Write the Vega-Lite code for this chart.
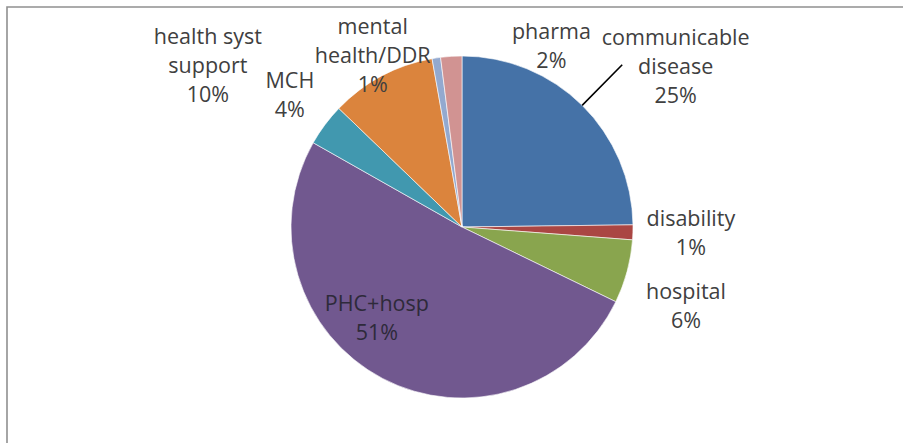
{
  "$schema": "https://vega.github.io/schema/vega-lite/v6.json",
  "autosize": {"type": "fit", "contains": "padding"},
  "width": 903,
  "height": 443,
  "padding": {"left": 7, "top": 7, "right": -14, "bottom": -4},
  "background": "white",
  "view": {"stroke": "#909090", "strokeWidth": 1.6},
  "config": {"view": {"stroke": "#909090", "strokeWidth": 1.6}, "text": {"font": "Open Sans"}},
  "data": {
    "values": [
      {"category": "communicable disease", "label": "communicable|disease", "pct": "25%", "share": 24.8, "order": 1},
      {"category": "disability", "label": "disability", "pct": "1%", "share": 1.4, "order": 2},
      {"category": "hospital", "label": "hospital", "pct": "6%", "share": 6.0, "order": 3},
      {"category": "PHC+hosp", "label": "PHC+hosp", "pct": "51%", "share": 51.0, "order": 4},
      {"category": "MCH", "label": "MCH", "pct": "4%", "share": 4.0, "order": 5},
      {"category": "health syst support", "label": "health syst|support", "pct": "10%", "share": 10.0, "order": 6},
      {"category": "mental health/DDR", "label": "mental|health/DDR", "pct": "1%", "share": 0.8, "order": 7},
      {"category": "pharma", "label": "pharma", "pct": "2%", "share": 2.0, "order": 8}
    ]
  },
  "transform": [
    {"window": [{"op": "sum", "field": "share", "as": "cum"}], "sort": [{"field": "order"}]},
    {"calculate": "datum.cum - datum.share", "as": "start"},
    {"calculate": "datum.cum - datum.share / 2", "as": "mid"},
    {"calculate": "datum.label + '|' + datum.pct", "as": "text"}
  ],
  "layer": [
    {
      "mark": {"type": "arc", "outerRadius": 171, "stroke": "#ffffff", "strokeWidth": 0.6},
      "encoding": {
        "theta": {"field": "start", "type": "quantitative", "scale": {"domain": [0, 100], "range": [0, 6.283185307]}},
        "theta2": {"field": "cum"},
        "color": {
          "field": "category", "type": "nominal", "legend": null,
          "scale": {
            "domain": ["communicable disease", "disability", "hospital", "PHC+hosp", "MCH", "health syst support", "mental health/DDR", "pharma"],
            "range": ["#4572A7", "#AA4643", "#89A54E", "#71588F", "#4198AF", "#DB843D", "#93A9CF", "#D19392"]
          }
        }
      }
    },
    {
      "transform": [{"filter": "datum.category == 'communicable disease'"}],
      "mark": {"type": "arc", "radius": 228, "radius2": 171, "fill": null, "stroke": "#000000", "strokeWidth": 1.6},
      "encoding": {"theta": {"field": "mid", "type": "quantitative"}, "theta2": {"field": "mid"}}
    },
    {
      "transform": [{"filter": "datum.category == 'communicable disease'"}],
      "mark": {"type": "text", "radius": 260, "dx": 31, "dy": -3, "fontSize": 21.5, "lineBreak": "|", "lineHeight": 29, "baseline": "middle", "color": "#404040"},
      "encoding": {"theta": {"field": "mid", "type": "quantitative"}, "text": {"field": "text"}}
    },
    {
      "transform": [{"filter": "datum.category == 'disability'"}],
      "mark": {"type": "text", "radius": 229, "dx": 0, "dy": -14, "fontSize": 21.5, "lineBreak": "|", "lineHeight": 29, "baseline": "middle", "color": "#404040"},
      "encoding": {"theta": {"field": "mid", "type": "quantitative"}, "text": {"field": "text"}}
    },
    {
      "transform": [{"filter": "datum.category == 'hospital'"}],
      "mark": {"type": "text", "radius": 232, "dx": 0, "dy": 5, "fontSize": 21.5, "lineBreak": "|", "lineHeight": 29, "baseline": "middle", "color": "#404040"},
      "encoding": {"theta": {"field": "mid", "type": "quantitative"}, "text": {"field": "text"}}
    },
    {
      "transform": [{"filter": "datum.category == 'PHC+hosp'"}],
      "mark": {"type": "text", "radius": 125, "dx": -27, "dy": -33, "fontSize": 21.5, "lineBreak": "|", "lineHeight": 29, "baseline": "middle", "color": "#2e2a3a"},
      "encoding": {"theta": {"field": "mid", "type": "quantitative"}, "text": {"field": "text"}}
    },
    {
      "transform": [{"filter": "datum.category == 'MCH'"}],
      "mark": {"type": "text", "radius": 216, "dx": 1, "dy": -16, "fontSize": 21.5, "lineBreak": "|", "lineHeight": 29, "baseline": "middle", "color": "#404040"},
      "encoding": {"theta": {"field": "mid", "type": "quantitative"}, "text": {"field": "text"}}
    },
    {
      "transform": [{"filter": "datum.category == 'health syst support'"}],
      "mark": {"type": "text", "radius": 200, "dx": -160, "dy": -13, "fontSize": 21.5, "lineBreak": "|", "lineHeight": 29, "baseline": "middle", "color": "#404040"},
      "encoding": {"theta": {"field": "mid", "type": "quantitative"}, "text": {"field": "text"}}
    },
    {
      "transform": [{"filter": "datum.category == 'mental health/DDR'"}],
      "mark": {"type": "text", "radius": 175, "dx": -63, "dy": -26, "fontSize": 21.5, "lineBreak": "|", "lineHeight": 29, "baseline": "middle", "color": "#404040"},
      "encoding": {"theta": {"field": "mid", "type": "quantitative"}, "text": {"field": "text"}}
    },
    {
      "transform": [{"filter": "datum.category == 'pharma'"}],
      "mark": {"type": "text", "radius": 185, "dx": 101, "dy": -9, "fontSize": 21.5, "lineBreak": "|", "lineHeight": 29, "baseline": "middle", "color": "#404040"},
      "encoding": {"theta": {"field": "mid", "type": "quantitative"}, "text": {"field": "text"}}
    }
  ]
}
